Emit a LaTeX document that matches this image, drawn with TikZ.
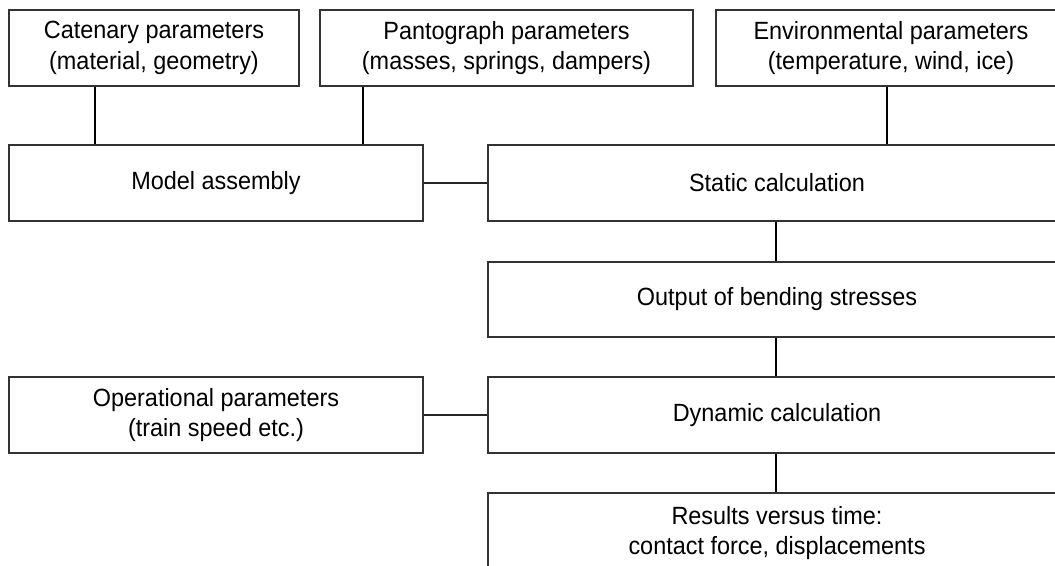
\documentclass[tikz,border=0pt]{standalone}
\usepackage{fontspec}
\setmainfont[FakeStretch=0.94]{Liberation Sans}
\begin{document}
\begin{tikzpicture}[x=0.75pt,y=-0.75pt,
  box/.style={draw=black!80, line width=0.8pt, rectangle, inner sep=0pt, align=center,
    font=\fontsize{18.7}{23}\selectfont},
  wh/.style 2 args={minimum width=#1*0.75pt, minimum height=#2*0.75pt},
  thinline/.style={draw=black, line width=0.8pt},
  midline/.style={draw=black!85, line width=1.1pt},
  thickline/.style={draw=black, line width=2pt}]
\useasboundingbox (0,0) rectangle (1055,566);
\clip (0,0) rectangle (1055,566);

\node[box, wh={290}{76}] (cat) at (154,48) {Catenary parameters\\(material, geometry)};
\node[box, wh={373}{76}] (pan) at (506.5,48) {Pantograph parameters\\(masses, springs, dampers)};
\node[box, wh={350}{76}] (env) at (891,48) {Environmental parameters\\(temperature, wind, ice)};
\node[box, wh={414}{76}] (model) at (216,183) {Model assembly};
\node[box, wh={578}{76}] (static) at (777,183) {Static calculation};
\node[box, wh={578}{75}] (output) at (777,299.5) {Output of bending stresses};
\node[box, wh={414}{76}] (oper) at (216,415) {Operational parameters\\(train speed etc.)};
\node[box, wh={578}{76}] (dyn) at (777,415) {Dynamic calculation};
\node[box, wh={578}{80}] (res) at (777,533) {Results versus time:\\contact force, displacements};

\coordinate (xc) at (95,0);
\coordinate (xp) at (363,0);
\coordinate (xe) at (887,0);
\coordinate (xr) at (776,0);

\draw[thinline] (cat.south -| xc) -- (model.north -| xc);
\draw[thinline] (pan.south -| xp) -- (model.north -| xp);
\draw[thinline] (env.south -| xe) -- (static.north -| xe);
\draw[midline] (model.east) -- (static.west);
\draw[midline] (oper.east) -- (dyn.west);
\draw[thickline] (static.south -| xr) -- (output.north -| xr);
\draw[thickline] (output.south -| xr) -- (dyn.north -| xr);
\draw[thickline] (dyn.south -| xr) -- (res.north -| xr);
\end{tikzpicture}
\end{document}
